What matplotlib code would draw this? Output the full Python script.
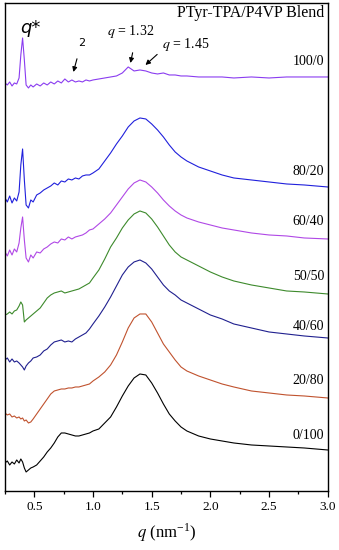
"""SAXS/WAXS profiles of PTyr-TPA/P4VP blends (stacked, arbitrary intensity)."""

import matplotlib
matplotlib.use('Agg')
import matplotlib.pyplot as plt
from matplotlib.ticker import MultipleLocator

# common q grid (nm^-1)
q = [0.25, 0.27, 0.29, 0.31, 0.33, 0.35, 0.37, 0.385, 0.40, 0.415, 0.43,
     0.45, 0.47, 0.49,
     0.52, 0.55, 0.58, 0.61, 0.64, 0.67, 0.70, 0.73, 0.76, 0.79, 0.82, 0.85,
     0.88, 0.91, 0.94, 0.97,
     1.00, 1.05, 1.10, 1.15, 1.20, 1.25, 1.30, 1.35, 1.40, 1.45, 1.50, 1.55,
     1.60, 1.65, 1.70, 1.75, 1.80,
     1.90, 2.00, 2.10, 2.20, 2.35, 2.50, 2.65, 2.80, 3.00]

# stacked intensities (a.u., offsets included)
i_100_0 = [408, 406, 409, 405, 408, 407, 413, 436, 453, 431, 406,
           403, 406, 404,
           407, 405, 408, 406, 409, 407, 410, 408, 412, 409, 411, 409,
           410, 409, 411, 410,
           411, 412, 413, 414, 415, 418, 424, 420, 421, 420, 418, 417,
           418, 416, 416, 415, 415,
           414, 414, 414, 413, 414, 413, 414, 414, 414]
i_80_20 = [293, 289, 295, 288, 293, 290, 299, 326, 342, 311, 286,
           283, 291, 289,
           296, 298, 301, 303, 305, 308, 306, 310, 309, 312, 311, 313,
           312, 315, 316, 316,
           318, 322, 330, 338, 347, 355, 364, 370, 373, 372, 367, 361,
           354, 346, 339, 334, 330,
           324, 320, 316, 313, 311, 309, 307, 306, 304]
i_60_40 = [239, 235, 241, 236, 242, 239, 248, 263, 274, 251, 233,
           229, 236, 233,
           239, 238, 242, 244, 247, 249, 248, 252, 251, 254, 252, 254,
           255, 256, 258, 261,
           262, 267, 272, 278, 286, 294, 302, 308, 311, 309, 304, 298,
           291, 285, 280, 276, 273,
           269, 266, 263, 261, 258, 256, 255, 253, 252]
i_50_50 = [176, 177, 179, 177, 180, 181, 185, 189, 186, 169, 171,
           173, 175, 177,
           180, 183, 188, 193, 196, 198, 199, 200, 198, 199, 200, 201,
           202, 204, 206, 208,
           213, 221, 232, 244, 253, 263, 271, 277, 280, 278, 272, 264,
           255, 246, 239, 234, 231,
           225, 219, 214, 210, 206, 203, 200, 199, 197]
i_40_60 = [131, 133, 129, 132, 129, 130, 128, 126, 124, 121, 125,
           128, 130, 133,
           134, 136, 140, 142, 146, 149, 150, 151, 149, 150, 149, 152,
           154, 156, 158, 162,
           167, 175, 184, 194, 205, 216, 224, 229, 231, 228, 222, 214,
           206, 200, 196, 191, 188,
           182, 176, 172, 167, 163, 159, 157, 155, 153]
i_20_80 = [78, 76, 77, 74, 75, 73, 74, 72, 73, 70, 71,
           68, 69, 72,
           77, 82, 87, 92, 97, 100, 101, 102, 102, 103, 103, 104,
           104, 105, 106, 107,
           110, 114, 119, 126, 136, 149, 163, 173, 177, 177, 169, 158,
           147, 139, 131, 124, 120,
           115, 111, 107, 104, 100, 98, 96, 95, 93]
i_0_100 = [28, 30, 26, 29, 27, 31, 28, 32, 29, 23, 19,
           21, 23, 24,
           26, 30, 34, 39, 43, 48, 54, 58, 58, 57, 56, 55,
           55, 56, 57, 58,
           60, 62, 68, 74, 84, 95, 105, 113, 117, 116, 108, 98,
           87, 77, 70, 64, 60,
           55, 52, 50, 48, 46, 45, 44, 43, 41]

labels = ['100/0', '80/20', '60/40', '50/50', '40/60', '20/80', '0/100']
curves = [i_100_0, i_80_20, i_60_40, i_50_50, i_40_60, i_20_80, i_0_100]
colors = ['#8a3cf0', '#2020dc', '#b048e6', '#3d8a2c', '#20208f', '#c0522e', 'black']
label_y = [429, 319, 269, 214, 164, 110, 55]

plt.rcParams['font.family'] = ['Liberation Serif', 'DejaVu Serif']
plt.rcParams['mathtext.fontset'] = 'stix'

fig = plt.figure(figsize=(3.39, 5.5), dpi=100)
ax = fig.add_axes([0.0147, 0.1073, 0.952, 0.8873])

for yvals, col in zip(curves, colors):
    ax.plot(q, yvals, color=col, lw=0.8)

for lab, ly in zip(labels, label_y):
    ax.text(2.97, ly, lab, ha='right', va='center', fontsize=10)

ax.text(2.97, 478, 'PTyr-TPA/P4VP Blend', ha='right', va='center', fontsize=11.5)
ax.text(0.466, 463, 'q*', ha='center', va='center', fontsize=13,
        family='DejaVu Sans', style='italic')
ax.annotate('2', xy=(0.833, 419), xytext=(0.90, 448), ha='center', va='center',
            fontsize=8, family='DejaVu Sans',
            arrowprops=dict(arrowstyle='-|>', color='black', lw=0.8,
                            mutation_scale=7, shrinkA=6, shrinkB=0))
ax.annotate(r'$q$ = 1.32', xy=(1.319, 428), xytext=(1.32, 459), ha='center',
            va='center', fontsize=10,
            arrowprops=dict(arrowstyle='-|>', color='black', lw=0.8,
                            mutation_scale=7, shrinkA=7, shrinkB=0,
                            relpos=(0.6, 0)))
ax.annotate(r'$q$ = 1.45', xy=(1.447, 426), xytext=(1.79, 446), ha='center',
            va='center', fontsize=10,
            arrowprops=dict(arrowstyle='-|>', color='black', lw=0.8,
                            mutation_scale=7, shrinkA=2, shrinkB=0,
                            relpos=(0.0, 0.2)))

ax.set_xlim(0.25, 3.0)
ax.set_ylim(0, 488)
ax.set_yticks([])
ax.xaxis.set_major_locator(MultipleLocator(0.5))
ax.xaxis.set_minor_locator(MultipleLocator(0.25))
ax.tick_params(axis='x', which='major', direction='out', length=4, width=0.9,
               labelsize=9.5)
ax.tick_params(axis='x', which='minor', direction='out', length=2.5, width=0.9)
ax.set_xticks([0.5, 1.0, 1.5, 2.0, 2.5, 3.0])
ax.set_xticklabels(['0.5', '1.0', '1.5', '2.0', '2.5', '3.0'])
for sp in ax.spines.values():
    sp.set_linewidth(1.0)
ax.set_xlabel(r'$q$ (nm$^{\mathregular{-1}}$)', fontsize=12, labelpad=6)

fig.savefig('out.png', dpi=100)
